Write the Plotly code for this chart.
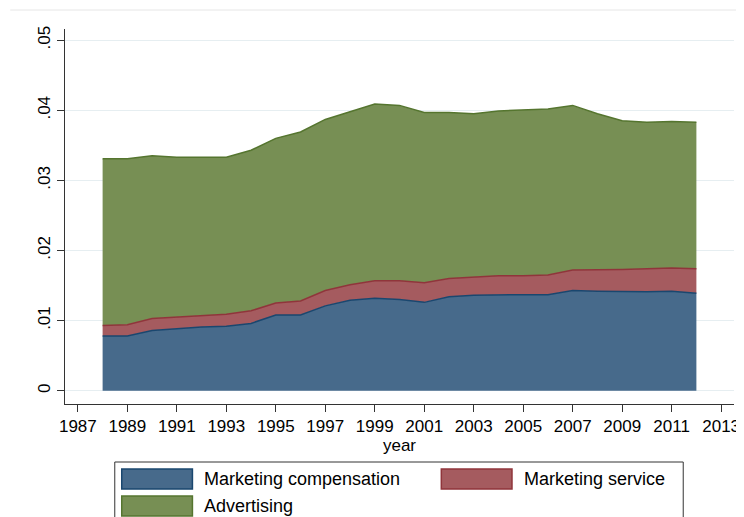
import plotly.graph_objects as go

years = list(range(1988, 2013))
compensation = [.0078, .0078, .0086, .0089, .0091, .0092, .0096, .0108, .0108, .0121, .0129, .0132, .0130,
                .0126, .0134, .0136, .0137, .0137, .0137, .0143, .0142, .0141, .0141, .0142, .0139]
service = [.0015, .0016, .0017, .0016, .0016, .0017, .0018, .0017, .0020, .0022, .0022, .0025, .0027,
           .0028, .0026, .0026, .0027, .0027, .0028, .0029, .0030, .0032, .0033, .0033, .0035]
advertising = [.0238, .0237, .0232, .0228, .0226, .0224, .0229, .0235, .0241, .0244, .0247, .0252, .0250,
               .0243, .0237, .0233, .0235, .0237, .0237, .0235, .0223, .0212, .0209, .0209, .0209]
series_names = ["Marketing compensation", "Marketing service", "Advertising"]
x_ticks = list(range(1987, 2014, 2))
y_ticks = [0, .01, .02, .03, .04, .05]
y_ticklabels = ["0", ".01", ".02", ".03", ".04", ".05"]

fills = ["#476a8b", "#a55b5f", "#778f54"]
lines = ["#1a476f", "#90353b", "#55752f"]
FONT = "Liberation Sans, Arial, sans-serif"

W, H = 744, 517
OFF = 8  # page body margin offset
# plot area in visible (screenshot) pixels
PL, PR, PT, PB = 65, 737, 29, 404
ml, mt = PL - OFF, PT - OFF
mr, mb = W - (PR - OFF), H - (PB - OFF)

fig = go.Figure()
for name, vals, fc, lc in zip(series_names, [compensation, service, advertising], fills, lines):
    fig.add_trace(go.Scatter(x=years, y=vals, name=name, stackgroup="one", mode="lines",
                             line=dict(color=lc, width=1.5), fillcolor=fc, showlegend=False))

fig.update_layout(
    width=W, height=H,
    margin=dict(l=ml, r=mr, t=mt, b=mb),
    paper_bgcolor="white", plot_bgcolor="white",
    font=dict(family=FONT, size=17, color="black"),
    xaxis=dict(range=[1986.48, 2013.52], tickmode="array", tickvals=x_ticks,
               ticks="outside", ticklen=7, tickcolor="#333", showgrid=False, zeroline=False,
               showline=True, linecolor="#333", linewidth=1,
               title=dict(text="year", font=dict(size=17), standoff=2)),
    yaxis=dict(range=[-0.0019, 0.0516], tickmode="array", tickvals=y_ticks, ticktext=y_ticklabels,
               tickangle=-90, ticks="outside", ticklen=7, tickcolor="#333",
               showgrid=True, gridcolor="#e6eef1", gridwidth=1, zeroline=False,
               showline=True, linecolor="#333", linewidth=1),
)

pw = PR - PL
ph = PB - PT
def px(x):
    return (x - PL) / pw
def py(y):
    return (PB - y) / ph

# top border line of graph region
fig.add_shape(type="line", xref="paper", yref="paper", x0=px(10), x1=px(744), y0=py(10), y1=py(10),
              line=dict(color="#e6e6e6", width=1))

# custom legend
fig.add_shape(type="rect", xref="paper", yref="paper", x0=px(115), x1=px(686), y0=py(462), y1=py(540),
              line=dict(color="#333", width=1), fillcolor="white")
legend_pos = [(122, 469), (443, 469), (122, 496)]
for (lx, ly), name, fc, lc in zip(legend_pos, series_names, fills, lines):
    fig.add_shape(type="rect", xref="paper", yref="paper", x0=px(lx), x1=px(lx + 71),
                  y0=py(ly), y1=py(ly + 20), line=dict(color=lc, width=1.5), fillcolor=fc)
    fig.add_annotation(xref="paper", yref="paper", x=px(lx + 81), y=py(ly + 10), text=name,
                       showarrow=False, xanchor="left", yanchor="middle", font=dict(size=18))

fig.write_html("out.html")
